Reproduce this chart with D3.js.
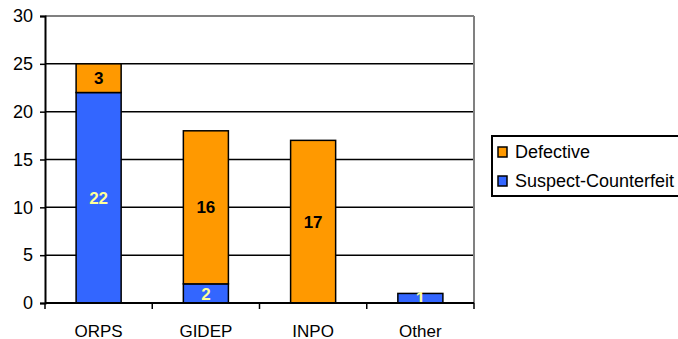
<!DOCTYPE html>
<html>
<head>
<meta charset="utf-8">
<script src="https://cdn.jsdelivr.net/npm/d3@7"></script>
<style>
  body { margin: 0; background: #fff; }
  text { font-family: "Liberation Sans", Arial, sans-serif; }
</style>
</head>
<body>
<div id="chart"></div>
<script>
const categories = ["ORPS", "GIDEP", "INPO", "Other"];
const suspectCounterfeit = [22, 2, 0, 1];
const defective = [3, 16, 17, 0];
const yTicks = [0, 5, 10, 15, 20, 25, 30];
const seriesNames = ["Suspect-Counterfeit", "Defective"];

const W = 678, H = 339;
const margin = { top: 16, right: 204, bottom: 36, left: 45 },
  width = W - margin.left - margin.right,
  height = H - margin.top - margin.bottom;

const svg = d3.select("#chart")
  .append("svg")
  .attr("width", W)
  .attr("height", H);

const g = svg.append("g")
  .attr("transform", `translate(${margin.left},${margin.top})`);

const x = d3.scaleBand()
  .domain(categories)
  .range([0, width])
  .paddingInner(0.58)
  .paddingOuter(0.29);

const y = d3.scaleLinear()
  .domain([0, 30])
  .range([height, 0]);

const color = d3.scaleOrdinal()
  .domain(seriesNames)
  .range(["#3366FF", "#FF9900"]);

const labelColor = { "Suspect-Counterfeit": "#FFFF99", "Defective": "#000" };

// gridlines
g.append("g")
  .selectAll("line")
  .data(yTicks.filter(d => d > 0))
  .join("line")
  .attr("x1", 0)
  .attr("x2", width)
  .attr("y1", d => y(d))
  .attr("y2", d => y(d))
  .attr("stroke", d => d === 30 ? "#808080" : "#000")
  .attr("stroke-width", d => d === 30 ? 2 : 1.5);

// right border of plot area
g.append("line")
  .attr("x1", width).attr("x2", width)
  .attr("y1", 0).attr("y2", height)
  .attr("stroke", "#808080")
  .attr("stroke-width", 2);

// stacked data
const table = categories.map((c, i) => ({
  cat: c,
  "Suspect-Counterfeit": suspectCounterfeit[i],
  "Defective": defective[i]
}));
const stacked = d3.stack().keys(seriesNames)(table);

const layer = g.append("g")
  .selectAll("g")
  .data(stacked)
  .join("g")
  .attr("fill", d => color(d.key));

layer.selectAll("rect")
  .data(d => d.filter(s => s[1] - s[0] > 0))
  .join("rect")
  .attr("x", d => x(d.data.cat))
  .attr("y", d => y(d[1]))
  .attr("width", x.bandwidth())
  .attr("height", d => y(d[0]) - y(d[1]))
  .attr("stroke", "#000")
  .attr("stroke-width", 1.5);

// axes
const yAxis = g.append("g")
  .call(d3.axisLeft(y).tickValues(yTicks).tickSize(5).tickPadding(7));
yAxis.select(".domain").attr("stroke", "#000").attr("stroke-width", 2);
yAxis.selectAll(".tick line").attr("stroke-width", 1.5);
yAxis.selectAll("text").style("font-size", "18px").attr("fill", "#000");

const xAxis = g.append("g")
  .attr("transform", `translate(0,${height})`)
  .call(d3.axisBottom(x).tickSize(0).tickPadding(22));
xAxis.select(".domain").remove();
xAxis.selectAll("text").style("font-size", "17px").attr("fill", "#000");

// x baseline and category boundary ticks
g.append("line")
  .attr("x1", 0).attr("x2", width)
  .attr("y1", height).attr("y2", height)
  .attr("stroke", "#000").attr("stroke-width", 2);
g.append("g")
  .selectAll("line")
  .data(d3.range(categories.length + 1))
  .join("line")
  .attr("x1", i => i * x.step())
  .attr("x2", i => i * x.step())
  .attr("y1", height)
  .attr("y2", height + 6)
  .attr("stroke", "#000")
  .attr("stroke-width", 1.5);

// value labels
layer.each(function(s) {
  d3.select(this).selectAll("text.val")
    .data(s.filter(d => d[1] - d[0] > 0))
    .join("text")
    .attr("class", "val")
    .attr("x", d => x(d.data.cat) + x.bandwidth() / 2)
    .attr("y", d => y((d[0] + d[1]) / 2))
    .attr("dy", "0.36em")
    .attr("text-anchor", "middle")
    .style("font-size", "17px")
    .style("font-weight", "bold")
    .attr("fill", labelColor[s.key])
    .text(d => d[1] - d[0]);
});

// legend
const legend = svg.append("g").attr("transform", "translate(492,136)");
legend.append("rect")
  .attr("width", 200).attr("height", 60)
  .attr("fill", "#fff").attr("stroke", "#000").attr("stroke-width", 2);

const items = legend.selectAll("g.item")
  .data(["Defective", "Suspect-Counterfeit"])
  .join("g")
  .attr("class", "item")
  .attr("transform", (d, i) => `translate(6,${16 + i * 29})`);

items.append("rect")
  .attr("x", 0).attr("y", -5)
  .attr("width", 9).attr("height", 10)
  .attr("fill", d => color(d))
  .attr("stroke", "#000").attr("stroke-width", 1.5);

items.append("text")
  .attr("x", 17)
  .attr("dy", "0.36em")
  .style("font-size", "18px")
  .attr("fill", "#000")
  .text(d => d);
</script>
</body>
</html>
